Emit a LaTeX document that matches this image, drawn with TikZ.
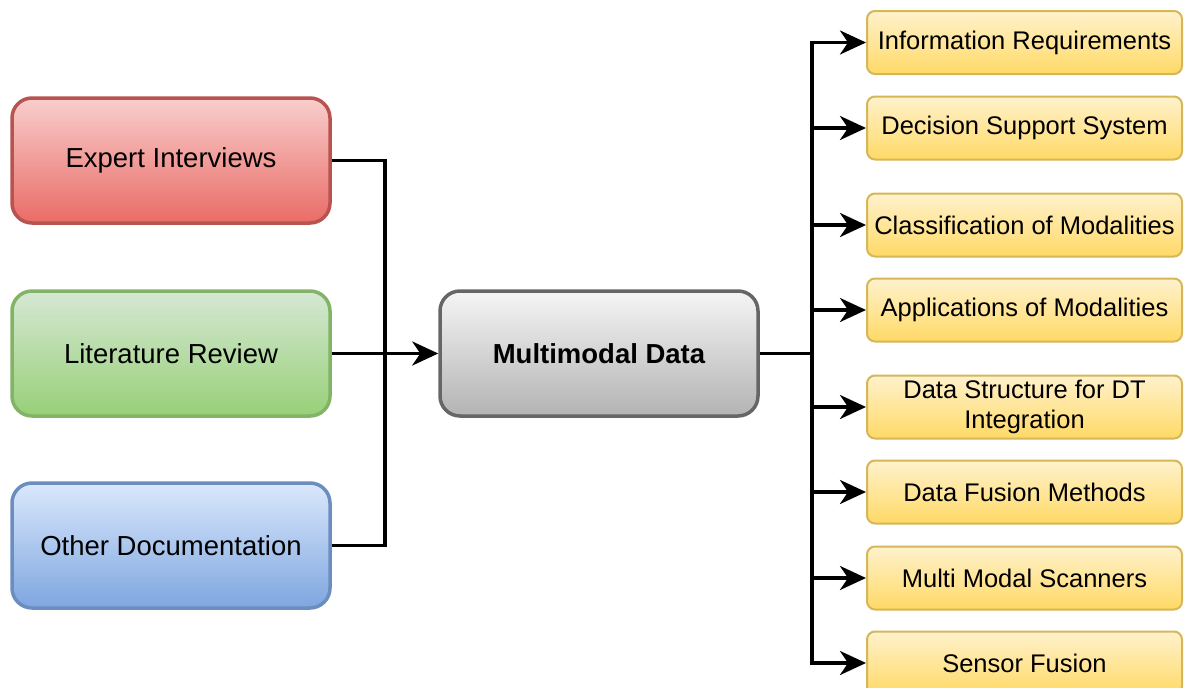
\documentclass[tikz,border=0pt]{standalone}
\usepackage{fontspec}
\setmainfont{Liberation Sans}
\usetikzlibrary{arrows.meta}

\tikzset{
  srcbox/.style={draw, line width=3.5pt, rounded corners=20pt, minimum width=318pt,
    minimum height=125pt, font=\fontsize{27.5}{33}\selectfont},
  topicbox/.style={draw=topicline, line width=2pt, top color=topictop, bottom color=topicbot,
    rounded corners=8pt, minimum width=315pt, minimum height=63pt, align=center,
    font=\fontsize{25.5}{30}\selectfont},
  link/.style={line width=3.5pt},
  arrow/.style={line width=3.5pt, -{Stealth[length=26pt, width=24pt, inset=8pt]}}
}
\definecolor{topictop}{HTML}{FFF2CC}
\definecolor{topicbot}{HTML}{FFD966}
\definecolor{topicline}{HTML}{D6B656}

\begin{document}
\begin{tikzpicture}[x=1pt, y=-1pt]
  \useasboundingbox (0,0) rectangle (1184,688);

  % sources
  \node[srcbox, draw={rgb,255:red,184;green,84;blue,80}, top color={rgb,255:red,248;green,206;blue,204},
    bottom color={rgb,255:red,234;green,107;blue,102}] (expert) at (171,160.5) {Expert Interviews};
  \node[srcbox, draw={rgb,255:red,130;green,179;blue,102}, top color={rgb,255:red,213;green,232;blue,212},
    bottom color={rgb,255:red,151;green,208;blue,119}] (lit) at (171,353.5) {Literature Review};
  \node[srcbox, draw={rgb,255:red,108;green,142;blue,191}, top color={rgb,255:red,218;green,232;blue,252},
    bottom color={rgb,255:red,126;green,166;blue,224}] (other) at (171,545.5) {Other Documentation};

  % centre
  \node[srcbox, draw={rgb,255:red,102;green,102;blue,102}, top color={rgb,255:red,245;green,245;blue,245},
    bottom color={rgb,255:red,179;green,179;blue,179}, font=\fontsize{27.5}{33}\selectfont\bfseries] (multi) at (599,353.5) {Multimodal Data};

  % topics
  \node[topicbox] (t1) at (1024.5,42.5) {Information Requirements};
  \node[topicbox] (t2) at (1024.5,128) {Decision Support System};
  \node[topicbox] (t3) at (1024.5,225) {Classification of Modalities};
  \node[topicbox] (t4) at (1024.5,310) {Applications of Modalities};
  \node[topicbox] (t5) at (1024.5,407) {Data Structure for DT\\Integration};
  \node[topicbox] (t6) at (1024.5,492) {Data Fusion Methods};
  \node[topicbox] (t7) at (1024.5,578) {Multi Modal Scanners};
  \node[topicbox] (t8) at (1024.5,663) {Sensor Fusion};

  % connectors
  \coordinate (join) at (385,353.5);
  \coordinate (split) at (812,353.5);
  \draw[link] (expert.east) -| (join);
  \draw[link] (other.east) -| (join);
  \draw[arrow] (lit.east) -- (multi.west);
  \draw[link] (multi.east) -- (split);
  \foreach \t in {t1,t2,t3,t4,t5,t6,t7,t8}
    \draw[arrow] (split) |- (\t.west);
\end{tikzpicture}
\end{document}
